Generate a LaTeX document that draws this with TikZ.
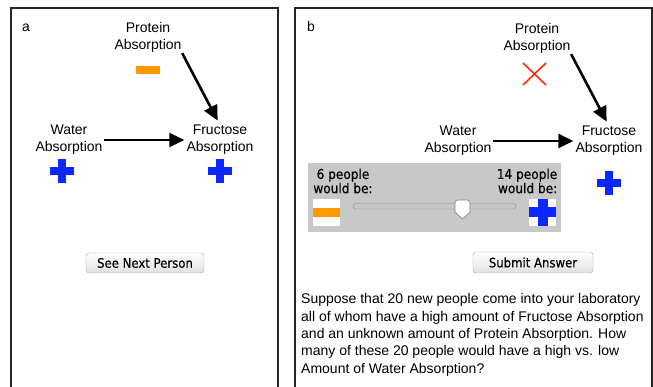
\documentclass[tikz,border=0pt]{standalone}
\usepackage{fontspec}
\setmainfont{Liberation Sans}
\newfontfamily\uifont{DejaVu Sans Condensed}[FakeBold=0.4]
\usetikzlibrary{arrows.meta}
\definecolor{pblue}{HTML}{0A28FF}
\definecolor{porange}{HTML}{FF9900}
\definecolor{pred}{HTML}{FF2A0A}
\definecolor{slidergray}{HTML}{C8C8C8}
\begin{document}
\begin{tikzpicture}[x=1pt,y=-1pt,
  lbl/.style={align=center,font=\fontsize{14}{17}\selectfont,inner sep=0pt},
  frame/.style={line width=1.4pt,draw=black!85},
  causal/.style={line width=2.6pt,-{Triangle[length=15pt,width=14pt]}},
  btn/.style={draw=black!35,rounded corners=3pt,top color=white,bottom color=black!12,
    minimum height=20pt,inner sep=0pt,font=\uifont\fontsize{13}{14}\selectfont},
  slbl/.style={inner sep=0pt,font=\uifont\fontsize{13.5}{14.2}\selectfont},
  bigplus/.pic={\fill[pblue] (-12,-4) rectangle (12,4); \fill[pblue] (-4,-12) rectangle (4,12);},
  minusbar/.pic={\fill[porange] (-12,-4) rectangle (12,4);}
]
\useasboundingbox (0,0) rectangle (653,387);
\fill[white] (0,0) rectangle (653,387);

% ---------- panel a ----------
\draw[frame] (11,392) -- (11,8) -- (278,8) -- (278,392);
\node[anchor=base,font=\fontsize{14}{17}\selectfont,inner sep=0pt] (la) at (26,32) {a};
\node[lbl] (pa) at (148,37) {Protein\\Absorption};
\node[lbl] (wa) at (69,140) {Water\\Absorption};
\node[lbl] (fa) at (220,140) {Fructose\\Absorption};
\pic at (148,70) {minusbar};
\pic at (62,171) {bigplus};
\pic at (220,171) {bigplus};
\draw[causal,shorten <=1pt,shorten >=5pt] (pa.south east) -- (fa.north);
\draw[causal,shorten <=1pt,shorten >=2pt] (wa.east) -- (fa.west);
\node[btn,minimum width=118pt] (next) at (145,263) {See Next Person};

% ---------- panel b ----------
\draw[frame] (295,392) -- (295,8) -- (652,8) -- (652,392);
\node[anchor=base,font=\fontsize{14}{17}\selectfont,inner sep=0pt] (lb) at (311,32) {b};
\node[lbl] (pb) at (537,38) {Protein\\Absorption};
\node[lbl] (wb) at (458,141) {Water\\Absorption};
\node[lbl] (fb) at (609,141) {Fructose\\Absorption};
\draw[pred,line width=1.6pt] (523,63) -- (546,85) (546,63) -- (523,85);
\pic at (609,183) {bigplus};
\draw[causal,shorten <=1pt,shorten >=5pt] (pb.south east) -- (fb.north);
\draw[causal,shorten <=1pt,shorten >=2pt] (wb.east) -- (fb.west);

% slider panel
\fill[slidergray] (308,163) rectangle (561,232);
\node[slbl,align=center] (six) at (343,181) {6 people\\would be:};
\node[slbl,align=right,anchor=east] (fourteen) at (557.5,181) {14 people\\would be:};
\fill[white] (313,199) rectangle (340,226);
\fill[porange] (313,208) rectangle (340,217);
\fill[white] (529,199) rectangle (556,226);
\fill[pblue] (529,207.5) rectangle (556,217.5);
\fill[pblue] (537.5,199) rectangle (547.5,226);
\draw[draw=black!45,fill=black!22,rounded corners=2.5pt] (353,203.5) rectangle (516,209);
\draw[draw=black!50,fill=white,line width=0.6pt] (455,203) -- (455,212) -- (462.5,219) -- (470,212) -- (470,203)
  arc[start angle=0,end angle=-90,radius=3] -- (458,200) arc[start angle=-90,end angle=-180,radius=3] -- cycle;

\node[btn,minimum width=120pt,minimum height=21pt] (submit) at (533,262.5) {Submit Answer};

\node[anchor=north west,align=left,inner sep=0pt,font=\fontsize{14}{17.3}\selectfont] (q) at (301,293.5)
 {Suppose that 20 new people come into your laboratory\\
  all of whom have a high amount of Fructose Absorption\\
  and an unknown amount of Protein Absorption. How\\
  many of these 20 people would have a high vs. low\\
  Amount of Water Absorption?};
\end{tikzpicture}
\end{document}
